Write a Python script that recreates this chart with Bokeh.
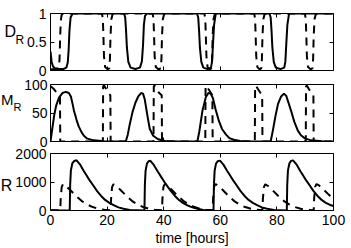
from bokeh.plotting import figure
from bokeh.models import Range1d, LinearAxis, FixedTicker
from bokeh.layouts import column, row
from bokeh.core.properties import value
from bokeh.embed import file_html
from bokeh.resources import INLINE

FONT = "Liberation Sans"

# ---------------- data ----------------
x_ticks = [0, 20, 40, 60, 80, 100]
x_tick_labels = ["0", "20", "40", "60", "80", "100"]
x_label = "time [hours]"

d_ticks = [0, 0.5, 1]
m_ticks = [0, 50, 100]
r_ticks = [0, 1000, 2000]

# D_R, solid
t_d_solid = [0, 0.4, 0.9, 1.6, 3.0, 4.5, 5.6, 6.1, 6.4, 6.7, 7.1, 7.8,
             26.0, 26.4, 26.7, 27.0, 27.5, 28.3, 30.0, 31.6, 32.3, 32.7, 33.0, 33.4, 34.0,
             51.8, 52.2, 52.5, 52.8, 53.3, 54.0, 55.5, 56.7, 57.1, 57.4, 57.8, 58.4,
             77.4, 77.8, 78.1, 78.4, 78.9, 79.6, 81.2, 82.6, 83.0, 83.3, 83.7, 84.3, 100]
d_solid = [0.33, 0.15, 0.07, 0.04, 0.025, 0.025, 0.05, 0.14, 0.35, 0.7, 0.93, 0.998,
           0.998, 0.93, 0.7, 0.4, 0.15, 0.05, 0.025, 0.05, 0.16, 0.45, 0.8, 0.96, 0.998,
           0.998, 0.93, 0.7, 0.4, 0.15, 0.05, 0.025, 0.05, 0.16, 0.45, 0.8, 0.998,
           0.998, 0.93, 0.7, 0.4, 0.15, 0.05, 0.025, 0.05, 0.16, 0.45, 0.8, 0.998, 0.998]

# D_R, dashed
t_d_dash = [0, 2.0, 2.9, 3.2, 3.4, 3.6, 3.9, 4.4,
            18.2, 18.5, 18.7, 18.9, 19.3, 20.2, 20.8, 21.0, 21.2, 21.5, 22.0,
            36.1, 36.4, 36.6, 36.8, 37.2, 38.2, 39.0, 39.2, 39.4, 39.7, 40.2,
            54.4, 54.7, 54.9, 55.1, 55.5, 56.3, 56.9, 57.1, 57.3, 57.6, 58.1,
            72.0, 72.3, 72.5, 72.7, 73.1, 73.9, 74.5, 74.7, 74.9, 75.2, 75.7,
            89.9, 90.2, 90.4, 90.6, 91.0, 91.9, 92.6, 92.8, 93.0, 93.3, 93.8, 100]
d_dash = [0.02, 0.02, 0.05, 0.2, 0.55, 0.85, 0.97, 0.998,
          0.998, 0.9, 0.6, 0.25, 0.06, 0.02, 0.04, 0.2, 0.6, 0.9, 0.998,
          0.998, 0.9, 0.6, 0.25, 0.06, 0.02, 0.04, 0.2, 0.6, 0.9, 0.998,
          0.998, 0.9, 0.6, 0.25, 0.06, 0.02, 0.04, 0.2, 0.6, 0.9, 0.998,
          0.998, 0.9, 0.6, 0.25, 0.06, 0.02, 0.04, 0.2, 0.6, 0.9, 0.998,
          0.998, 0.9, 0.6, 0.25, 0.06, 0.02, 0.04, 0.2, 0.6, 0.9, 0.998, 0.998]

# M_R, solid
t_m_solid = [0, 0.5, 1.3, 2.0, 3.0, 4.2, 5.4, 6.5, 7.2, 7.8, 8.3, 9.2, 10.0, 11.0, 11.8, 13.0, 15.3, 19.0,
             26.6, 27.3, 28.0, 29.0, 30.0, 31.0, 32.0, 32.7, 33.3, 33.9, 34.5, 35.1, 36.3, 38.0, 40.5, 45.0,
             51.9, 52.6, 53.7, 54.9, 55.8, 56.6, 57.4, 58.3, 59.5, 60.6, 61.9, 63.2, 64.8, 67.0, 71.0,
             77.8, 78.6, 79.5, 80.4, 81.5, 82.5, 83.3, 84.1, 85.0, 86.2, 87.4, 88.5, 89.7, 92.0, 96.0, 100]
m_solid = [0, 18, 46, 63, 77, 85, 87, 85, 79, 66, 54, 38, 26, 16, 10, 5, 2, 0.5,
           0, 12, 30, 52, 68, 79, 85, 84, 74, 56, 38, 22, 10, 4, 1, 0,
           0, 18, 54, 78, 85, 84, 76, 57, 36, 22, 13, 6, 3, 1, 0,
           0, 20, 45, 66, 79, 84, 80, 68, 54, 34, 19, 11, 6, 2, 0.5, 0]

# M_R, dashed
t_m_dash = [0, 1.0, 2.0, 2.9, 3.35, 3.45,
            18.5, 18.6, 18.9, 19.6, 20.4, 21.15, 21.25,
            36.4, 36.5, 36.8, 37.5, 38.4, 39.3, 39.4,
            54.7, 54.8, 55.1, 55.8, 56.6, 57.2, 57.3,
            72.2, 72.3, 72.6, 73.3, 74.1, 74.8, 74.9,
            90.2, 90.3, 90.6, 91.3, 92.1, 92.9, 93.0, 100]
m_dash = [97, 93, 87, 82, 79, 0,
          0, 97, 98, 93, 86, 81, 0,
          0, 97, 98, 92, 85, 81, 0,
          0, 97, 98, 92, 86, 81, 0,
          0, 97, 98, 92, 86, 81, 0,
          0, 97, 98, 92, 86, 81, 0, 0]

# R, solid
t_r_solid = [0, 6.8, 6.95, 7.2, 7.7, 8.4, 9.2, 10.4, 11.8, 13.0, 14.1, 15.3, 16.4, 17.8, 19.3, 20.8, 22.3, 24.0, 25.8, 28.0, 33.2,
             33.35, 33.6, 34.1, 34.7, 35.3, 36.5, 37.9, 39.1, 40.2, 41.4, 42.5, 43.9, 45.4, 46.9, 48.4, 50.1, 51.9, 54.0, 57.6,
             57.75, 58.0, 58.5, 59.1, 59.9, 61.1, 62.5, 63.7, 64.8, 66.0, 67.1, 68.5, 70.0, 71.5, 73.0, 74.7, 76.5, 79.0, 83.5,
             83.65, 83.9, 84.4, 85.0, 85.7, 86.9, 88.3, 89.5, 90.6, 91.8, 92.9, 94.3, 95.8, 97.3, 98.8, 100]
r_solid = [0, 0, 900, 1400, 1650, 1740, 1760, 1620, 1380, 1190, 1020, 850, 690, 520, 370, 270, 190, 110, 60, 20, 0,
           900, 1400, 1650, 1730, 1745, 1600, 1370, 1180, 1010, 840, 690, 520, 370, 260, 180, 110, 60, 20, 5,
           900, 1400, 1650, 1730, 1750, 1610, 1380, 1190, 1020, 850, 690, 520, 370, 270, 190, 110, 60, 20, 0,
           900, 1400, 1650, 1740, 1760, 1620, 1380, 1190, 1020, 850, 690, 520, 370, 270, 195, 160]

# R, dashed
t_r_dash = [0, 3.45, 3.6, 3.95, 4.45, 5.45, 6.95, 8.95, 10.95, 12.95, 14.95, 16.95, 18.95, 21.25,
            21.4, 21.75, 22.25, 23.25, 24.75, 26.75, 28.75, 30.75, 32.75, 34.75, 36.75, 39.4,
            39.55, 39.9, 40.4, 41.4, 42.9, 44.9, 46.9, 48.9, 50.9, 52.9, 54.9, 57.3,
            57.45, 57.8, 58.3, 59.3, 60.8, 62.8, 64.8, 66.8, 68.8, 70.8, 72.8, 74.9,
            75.05, 75.4, 75.9, 76.9, 78.4, 80.4, 82.4, 84.4, 86.4, 88.4, 90.4, 93.0,
            93.15, 93.5, 94.0, 95.0, 96.5, 98.5, 100]
r_dash = [5, 5, 400, 820, 930, 860, 720, 520, 340, 210, 120, 60, 25, 5,
          400, 820, 920, 860, 720, 520, 340, 210, 120, 60, 25, 5,
          400, 830, 930, 860, 720, 520, 340, 210, 120, 60, 25, 5,
          400, 830, 930, 870, 730, 520, 340, 210, 120, 60, 25, 5,
          400, 820, 920, 860, 720, 520, 340, 210, 120, 60, 25, 5,
          400, 830, 930, 870, 730, 540, 420]

# ---------------- drawing ----------------
TOTAL_W = 351
FRAME_LEFT = 48
RIGHT = 18
DASH = "8 6"


def style_axis(ax, ticks, show_labels, standoff=4):
    ax.ticker = FixedTicker(ticks=ticks)
    ax.major_tick_in = 4
    ax.major_tick_out = 0
    ax.minor_tick_line_color = None
    ax.axis_line_color = None
    ax.major_tick_line_color = "black"
    ax.major_tick_line_width = 1
    if show_labels:
        ax.major_label_text_font = FONT
        ax.major_label_text_font_size = "14px"
        ax.major_label_text_color = "black"
        ax.major_label_standoff = standoff
    else:
        ax.major_label_text_font_size = "0px"
        ax.major_label_text_color = None
        ax.major_label_text_alpha = 0
        ax.major_label_standoff = 0


def panel(lab_w, height, yr, yticks, top, bottom, show_x, y_standoff=4):
    p = figure(width=TOTAL_W - lab_w, height=height, x_range=Range1d(0, 100), y_range=Range1d(*yr),
               output_backend="svg", toolbar_location=None,
               x_axis_type=None, y_axis_type=None,
               min_border_left=FRAME_LEFT - lab_w, min_border_right=RIGHT,
               min_border_top=top, min_border_bottom=bottom)
    p.outline_line_color = "black"
    p.outline_line_width = 1
    p.background_fill_color = "white"
    p.border_fill_color = "white"

    bx = LinearAxis()
    style_axis(bx, x_ticks, show_x)
    if show_x:
        bx.major_label_overrides = {t: s for t, s in zip(x_ticks, x_tick_labels)}
        bx.major_label_standoff = 4
        bx.axis_label = x_label
        bx.axis_label_text_font = FONT
        bx.axis_label_text_font_size = "14px"
        bx.axis_label_text_font_style = "normal"
        bx.axis_label_text_color = "black"
        bx.axis_label_standoff = 2
    p.add_layout(bx, "below")
    ax_top = LinearAxis()
    style_axis(ax_top, x_ticks, False)
    p.add_layout(ax_top, "above")
    ly = LinearAxis()
    style_axis(ly, yticks, True, y_standoff)
    p.add_layout(ly, "left")
    ry = LinearAxis()
    style_axis(ry, yticks, False)
    p.add_layout(ry, "right")
    p.xgrid.grid_line_color = None
    p.ygrid.grid_line_color = None
    return p


def label_fig(lab_w, height, yr, top, bottom, texts, xs, ys, sizes):
    f = figure(width=lab_w, height=height, x_range=Range1d(0, lab_w), y_range=Range1d(*yr),
               output_backend="svg", toolbar_location=None,
               x_axis_type=None, y_axis_type=None,
               min_border_left=0, min_border_right=0,
               min_border_top=top, min_border_bottom=bottom)
    f.outline_line_color = None
    f.background_fill_color = "white"
    f.border_fill_color = "white"
    f.xgrid.grid_line_color = None
    f.ygrid.grid_line_color = None
    for t, x, y, s in zip(texts, xs, ys, sizes):
        f.text(x=[x], y=[y], text=[t], text_font=value(FONT), text_font_size=value(s),
               text_baseline="middle", text_align="left", text_color="black")
    return f


# panel D_R
LW1 = 24
p1 = panel(LW1, 77, (0, 1), d_ticks, 13, 7, False, 4)
p1.line(t_d_solid, d_solid, line_color="black", line_width=2)
p1.line(t_d_dash, d_dash, line_color="black", line_width=2, line_dash=DASH)
l1 = label_fig(LW1, 77, (0, 1), 13, 7, ["D", "R"], [4, 15], [0.68, 0.54], ["16px", "12px"])

# panel M_R
LW2 = 21
p2 = panel(LW2, 70, (0, 100), m_ticks, 7, 6, False, 3)
p2.line(t_m_solid, m_solid, line_color="black", line_width=2)
p2.line(t_m_dash, m_dash, line_color="black", line_width=2, line_dash=DASH)
l2 = label_fig(LW2, 70, (0, 100), 7, 6, ["M", "R"], [0.5, 13], [74, 61], ["15px", "11px"])

# panel R
LW3 = 12
p3 = panel(LW3, 101, (0, 2000), r_ticks, 6, 38, True, 4)
p3.line(t_r_solid, r_solid, line_color="black", line_width=2)
p3.line(t_r_dash, r_dash, line_color="black", line_width=2, line_dash=DASH)
l3 = label_fig(LW3, 101, (0, 2000), 6, 38, ["R"], [0.3], [880], ["16px"])

layout = column(row(l1, p1), row(l2, p2), row(l3, p3))
open("out.html", "w").write(file_html(layout, INLINE))
